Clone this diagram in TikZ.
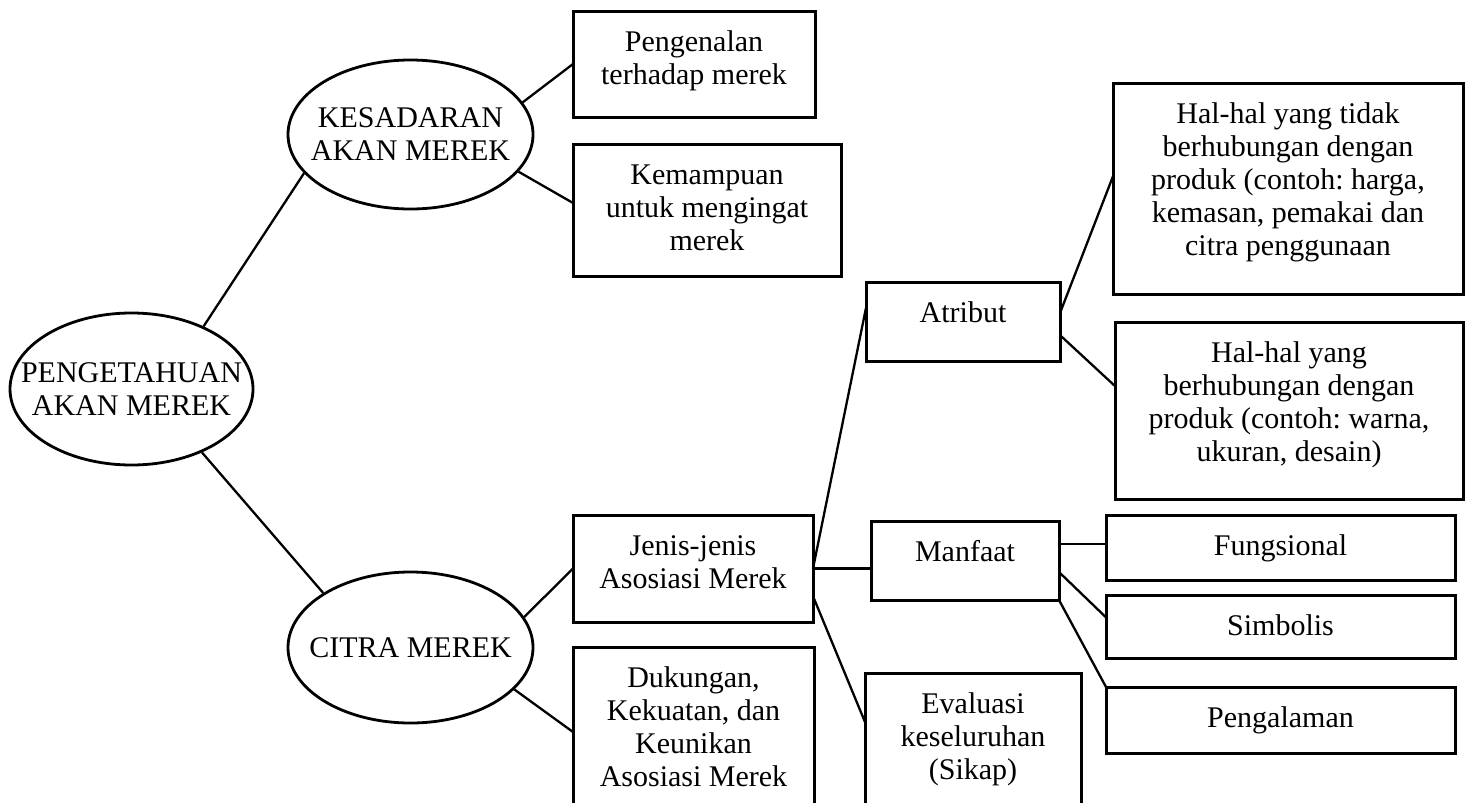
\documentclass[tikz,border=0pt]{standalone}
\usepackage{fontspec}
\setmainfont{Liberation Serif}
\usetikzlibrary{shapes.geometric}

\tikzset{
  bulat/.style={draw, ellipse, line width=2.8pt, inner xsep=-40pt, inner ysep=0pt, align=center},
  kotak/.style={draw, rectangle, line width=3pt, anchor=north west, outer sep=0pt, inner xsep=3pt, inner ysep=19pt, text height=21pt, align=flush center},
  garis/.style={line width=2.3pt}
}

\begin{document}
\begin{tikzpicture}[x=1pt, y=-1pt, font=\fontsize{30}{33}\selectfont\frenchspacing]
\useasboundingbox (0,0) rectangle (1468,803);
\clip (0,0) rectangle (1468,803);

\node[bulat, minimum width=243pt, minimum height=152pt] (tahu) at (131.5,389) {PENGETAHUAN\\AKAN MEREK};
\node[bulat, minimum width=245pt, minimum height=149pt] (sadar) at (410.5,134.5) {KESADARAN\\AKAN MEREK};
\node[bulat, minimum width=245pt, minimum height=151pt] (citra) at (410.5,647.5) {CITRA MEREK};

\node[kotak, text width=236pt, text depth=47pt] (kenal) at (573,11) {Pengenalan\\terhadap merek};
\node[kotak, text width=262pt, text depth=73pt] (ingat) at (573,144) {Kemampuan\\untuk mengingat\\merek};
\node[kotak, text width=234pt, text depth=48pt] (jenis) at (573,515) {Jenis-jenis\\Asosiasi Merek};
\node[kotak, text width=235pt, text depth=111pt] (dukung) at (573,647) {Dukungan,\\Kekuatan, dan\\Keunikan\\Asosiasi Merek};

\node[kotak, text width=188pt, text depth=20pt] (atribut) at (866,282) {Atribut};
\node[kotak, text width=182pt, text depth=20pt] (manfaat) at (871,521) {Manfaat};
\node[kotak, text width=210pt, text depth=101pt] (evaluasi) at (865,673) {Evaluasi\\keseluruhan\\(Sikap)};

\node[kotak, text width=344pt, text depth=152pt] (luar) at (1113,83) {Hal-hal yang tidak\\berhubungan dengan\\produk (contoh: harga,\\kemasan, pemakai dan\\citra penggunaan};
\node[kotak, text width=342pt, text depth=118pt] (dalam) at (1115,322) {Hal-hal yang\\berhubungan dengan\\produk (contoh: warna,\\ukuran, desain)};
\node[kotak, text width=343pt, text depth=6pt] (fungsi) at (1106,515) {Fungsional};
\node[kotak, text width=343pt, text depth=4pt] (simbol) at (1106,595) {Simbolis};
\node[kotak, text width=343pt, text depth=7pt] (alami) at (1106,687) {Pengalaman};

\draw[garis] (tahu.41) -- (sadar.200);
\draw[garis] (tahu.-42) -- (citra.148);
\draw[garis] (sadar.16) -- (kenal.west);
\draw[garis] (sadar.-19) -- (ingat.177);
\draw[garis] (citra.15) -- (jenis.west);
\draw[garis] (citra.-22) -- (dukung.west);
\draw[garis] (jenis.east) -- (atribut.172);
\draw[garis] (jenis.east) -- (jenis.east -| manfaat.west);
\draw[garis] (jenis.-13) -- (evaluasi.164);
\draw[garis] (atribut.5) -- (luar.176);
\draw[garis] (atribut.-8) -- (dalam.172);
\draw[garis] (manfaat.10) -- (manfaat.10 -| fungsi.west);
\draw[garis] (manfaat.-7) -- (simbol.177);
\draw[garis] (manfaat.south east) -- (alami.north west);
\end{tikzpicture}
\end{document}
